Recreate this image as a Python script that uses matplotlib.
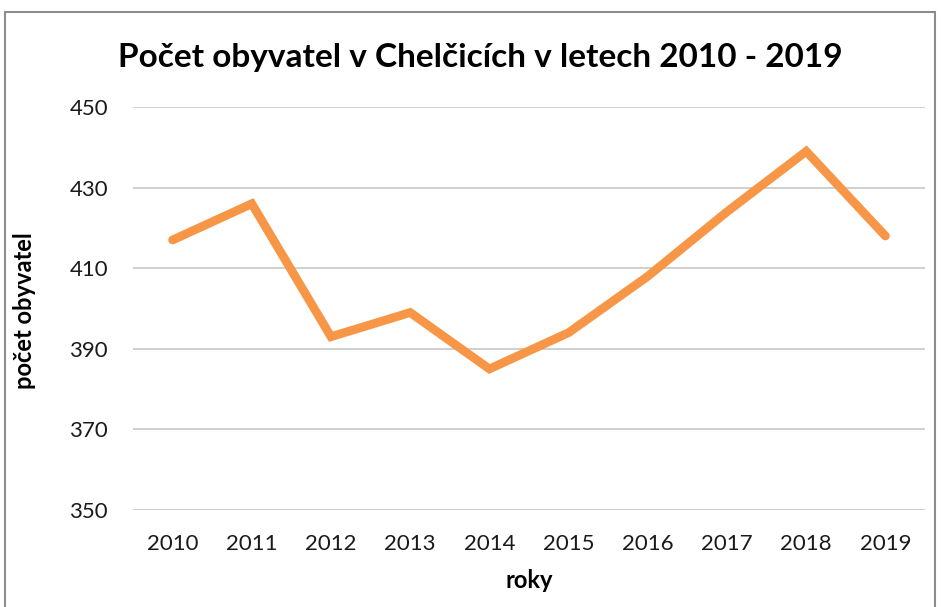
import matplotlib
matplotlib.use("Agg")
import matplotlib.pyplot as plt
from matplotlib.patches import Rectangle

roky = ["2010", "2011", "2012", "2013", "2014", "2015", "2016", "2017", "2018", "2019"]
obyvatel = [417, 426, 393, 399, 385, 394, 408, 424, 439, 418]
y_ticks = [350, 370, 390, 410, 430, 450]

plt.rcParams['font.family'] = ['Lato', 'DejaVu Sans']

fig = plt.figure(figsize=(9.41, 6.07), dpi=100)
# okraj grafu
fig.patches.append(Rectangle((5 / 941, -0.1), 930 / 941, 1.1 - 12 / 607, transform=fig.transFigure,
                             fill=False, edgecolor='#8c8c8c', linewidth=1.5))

ax = fig.add_axes([133 / 941, 1 - 510 / 607, 792 / 941, 403 / 607])
x = list(range(len(roky)))
ax.plot(x, obyvatel, color='#F79646', linewidth=6.3, solid_capstyle='round', solid_joinstyle='miter')

ax.set_xlim(-0.5, 9.5)
ax.set_ylim(350, 450)
ax.set_yticks(y_ticks)
ax.set_xticks(x)
ax.set_xticklabels(roky)
ax.grid(axis='y', color='#cccccc', linewidth=1.3)
ax.set_axisbelow(True)
for s in ax.spines.values():
    s.set_visible(False)
ax.tick_params(length=0, labelsize=16, colors='#1a1a1a')
ax.tick_params(axis='x', pad=17)
ax.tick_params(axis='y', pad=18)

fig.text(480 / 941, 1 - 58 / 607, "Počet obyvatel v Chelčicích v letech 2010 - 2019",
         ha='center', va='center', fontsize=24, fontweight='bold')
fig.text(529 / 941, 1 - 580 / 607, "roky", ha='center', va='center', fontsize=17, fontweight='bold')
fig.text(25 / 941, 1 - 311 / 607, "počet obyvatel", ha='center', va='center', rotation=90,
         fontsize=17, fontweight='bold')

fig.savefig("out.png", dpi=100)
